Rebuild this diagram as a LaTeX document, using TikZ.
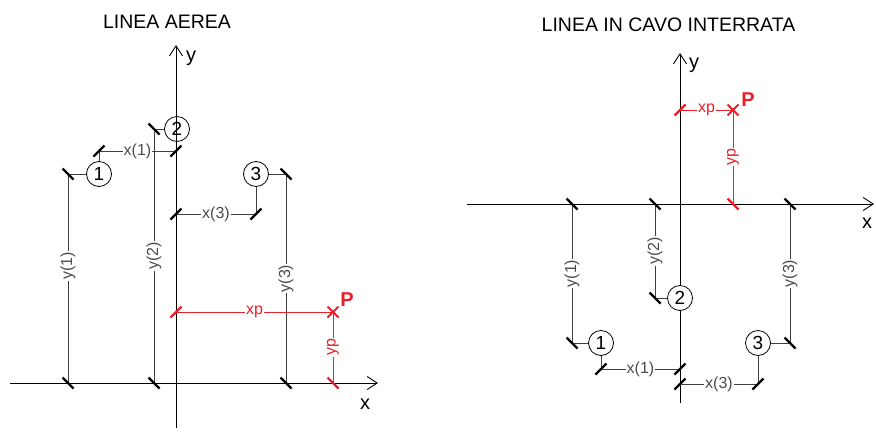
\documentclass[tikz,border=0pt]{standalone}
\usepackage{fontspec}
\setmainfont{Liberation Sans}
\usetikzlibrary{arrows.meta, shapes.misc}
\definecolor{quota}{RGB}{232,32,42}
\newcommand{\tickdn}[2][black]{\draw[slash, #1] (#2) ++(-5.5,-5.5) -- ++(11,11);}
\newcommand{\tickup}[2][black]{\draw[slash, #1] (#2) ++(-5.5,5.5) -- ++(11,-11);}

\begin{document}
\begin{tikzpicture}[
        yscale=-1,
        x=1pt,
        y=1pt,
        every node/.style={font=\fontsize{16}{18}\selectfont},
        axis/.style={line width=0.9pt, -{Straight Barb[length=10pt, width=13pt]}},
        axlbl/.style={font=\fontsize{20}{22}\selectfont},
        dim/.style={line width=0.8pt, black!75},
        pdim/.style={line width=0.8pt, quota},
        slash/.style={line width=2.2pt},
        cond/.style={circle, draw, line width=0.8pt, fill=white, minimum size=25pt,
                inner sep=0pt, font=\fontsize{19}{19}\selectfont},
        lbl/.style={fill=white, inner sep=1pt, text=black!70},
        plbl/.style={fill=white, inner sep=1pt, text=quota},
        pnt/.style={cross out, draw=quota, line width=2pt, minimum size=9pt, inner sep=0pt},
        ptxt/.style={text=quota, font=\fontsize{20}{22}\selectfont\bfseries},
        title/.style={font=\fontsize{19.5}{21}\selectfont}
    ]
    \useasboundingbox (0,0) rectangle (876,440);

    % linea aerea
    \node[title] (tA) at (167,21.5) {LINEA AEREA};
    \coordinate (aXs) at (10,383);
    \coordinate (aXe) at (378,383);
    \coordinate (aYs) at (176,428);
    \coordinate (aYe) at (176,45);
    \draw[axis] (aXs) -- (aXe);
    \draw[axis] (aYs) -- (aYe);
    \node[axlbl] (aXl) at (365,404) {x};
    \node[axlbl] (aYl) at (191,58) {y};

    \node[cond] (a1) at (99,174) {1};
    \node[cond, fill=none] (a2) at (177,129) {2};
    \node[cond] (a3) at (256,174) {3};
    \coordinate (a1y) at (68,174);
    \coordinate (a1b) at (68,383);
    \coordinate (a1x) at (99,151);
    \coordinate (a1o) at (176,151);
    \coordinate (a2y) at (154,129);
    \coordinate (a2b) at (154,383);
    \coordinate (a3y) at (286,174);
    \coordinate (a3b) at (286,383);
    \coordinate (a3x) at (256,214);
    \coordinate (a3o) at (176,214);
    \node[pnt] (aP) at (333,312) {};
    \coordinate (aPx) at (176,312);
    \coordinate (aPy) at (333,383);
    \node[ptxt] (aPl) at (347,300) {P};

    \draw[dim] (a1) -- (a1y) -- (a1b) node[lbl, rotate=90, pos=0.44] {y(1)};
    \draw[dim] (a1) -- (a1x) -- (a1o) node[lbl, midway] {x(1)};
    \draw[dim] (a2) -- (a2y) -- (a2b) node[lbl, rotate=90, midway] {y(2)};
    \draw[dim] (a3) -- (a3y) -- (a3b) node[lbl, rotate=90, midway] {y(3)};
    \draw[dim] (a3) -- (a3x) -- (a3o) node[lbl, midway] {x(3)};
    \draw[pdim] (aPx) -- (aP.center) node[plbl, midway] {xp};
    \draw[pdim] (aP.center) -- (aPy) node[plbl, rotate=90, midway] {yp};

    \tickdn{a1y} \tickdn{a1b} \tickdn{a2y} \tickdn{a2b} \tickdn{a3y} \tickdn{a3b}
    \tickup{a1x} \tickup{a1o} \tickup{a3x} \tickup{a3o}
    \tickup[quota]{aPx} \tickdn[quota]{aPy}

    % linea in cavo interrata
    \node[title] (tC) at (668.5,25) {LINEA IN CAVO INTERRATA};
    \coordinate (cXs) at (467,204);
    \coordinate (cXe) at (874,204);
    \coordinate (cYs) at (680,403);
    \coordinate (cYe) at (680,53);
    \draw[axis] (cXs) -- (cXe);
    \draw[axis] (cYs) -- (cYe);
    \node[axlbl] (cXl) at (867,223) {x};
    \node[axlbl] (cYl) at (694,65) {y};

    \node[cond] (c1) at (601,343) {1};
    \node[cond] (c2) at (680,298) {2};
    \node[cond] (c3) at (758,343) {3};
    \coordinate (c1y) at (572,343);
    \coordinate (c1t) at (572,204);
    \coordinate (c1x) at (601,369);
    \coordinate (c1o) at (680,369);
    \coordinate (c2y) at (655,298);
    \coordinate (c2t) at (655,204);
    \coordinate (c3y) at (790,343);
    \coordinate (c3t) at (790,204);
    \coordinate (c3x) at (758,384);
    \coordinate (c3o) at (680,384);
    \node[pnt] (cP) at (733,110) {};
    \coordinate (cPx) at (680,110);
    \coordinate (cPy) at (733,204);
    \node[ptxt] (cPl) at (748,100) {P};

    \draw[dim] (c1) -- (c1y) -- (c1t) node[lbl, rotate=90, midway] {y(1)};
    \draw[dim] (c1) -- (c1x) -- (c1o) node[lbl, midway] {x(1)};
    \draw[dim] (c2) -- (c2y) -- (c2t) node[lbl, rotate=90, midway] {y(2)};
    \draw[dim] (c3) -- (c3y) -- (c3t) node[lbl, rotate=90, midway] {y(3)};
    \draw[dim] (c3) -- (c3x) -- (c3o) node[lbl, midway] {x(3)};
    \draw[pdim] (cPx) -- (cP.center) node[plbl, midway] {xp};
    \draw[pdim] (cP.center) -- (cPy) node[plbl, rotate=90, midway] {yp};

    \tickdn{c1y} \tickdn{c1t} \tickdn{c2y} \tickdn{c2t} \tickdn{c3y} \tickdn{c3t}
    \tickup{c1x} \tickup{c1o} \tickup{c3x} \tickup{c3o}
    \tickup[quota]{cPx} \tickdn[quota]{cPy}
\end{tikzpicture}
\end{document}
